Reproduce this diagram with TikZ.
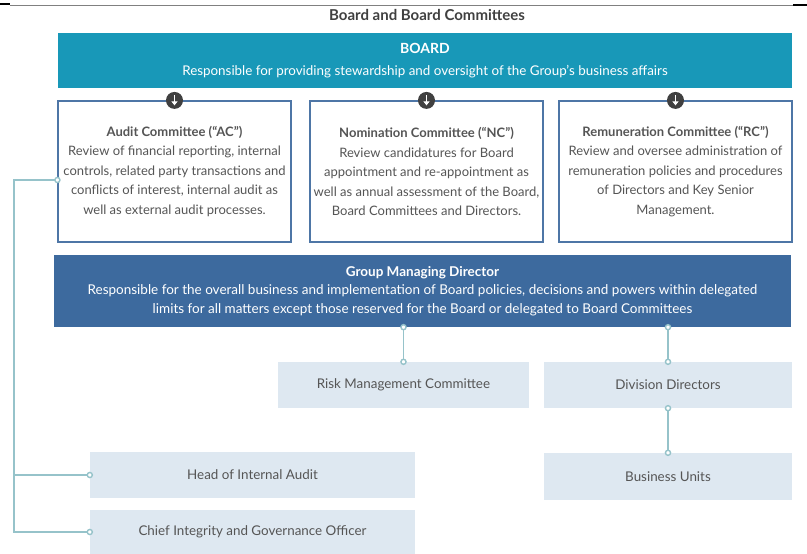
\documentclass[tikz,border=0pt]{standalone}
\usepackage{fontspec}
\setmainfont{Lato}
\usetikzlibrary{arrows.meta}

\definecolor{boardteal}{RGB}{24,152,184}
\definecolor{gmdblue}{RGB}{61,106,158}
\definecolor{frameblue}{RGB}{78,118,166}
\definecolor{unitblue}{RGB}{222,232,241}
\definecolor{badgegray}{RGB}{64,64,64}
\definecolor{linkteal}{RGB}{150,195,202}
\definecolor{textgray}{RGB}{85,85,85}

\begin{document}
\begin{tikzpicture}[x=1pt,y=-1pt]
   \tikzstyle{every node}=[text=textgray, font=\fontsize{13.4}{19.5}\selectfont, align=center, inner sep=0pt]
   \tikzstyle{banner}=[fill=boardteal, text=white, minimum width=734pt, minimum height=55pt]
   \tikzstyle{gmdbox}=[fill=gmdblue, text=white, minimum width=737pt, minimum height=72pt, font=\fontsize{13.5}{18.5}\selectfont]
   \tikzstyle{committee}=[draw=frameblue, line width=1.2pt, fill=white, minimum width=233pt, minimum height=141pt, font=\fontsize{13}{19.5}\selectfont]
   \tikzstyle{unit}=[fill=unitblue, minimum height=46pt]
   \tikzstyle{badge}=[circle, fill=badgegray, minimum size=17pt]
   \tikzstyle{link}=[draw=linkteal, line width=1.4pt, {Circle[fill=white,length=6.5pt,width=6.5pt]}-{Circle[fill=white,length=6.5pt,width=6.5pt]}, shorten <=-3.25pt, shorten >=-3.25pt]
   \tikzstyle{branch}=[draw=linkteal, line width=1.4pt, -{Circle[fill=white,length=6.5pt,width=6.5pt]}, shorten >=-3.25pt]

\useasboundingbox (0,0) rectangle (807,554);

% page edge
\draw[gray, line width=1pt] (10,5) -- (793,5);
\draw[black, line width=2pt] (0,4) -- (10,4);
\draw[black, line width=2pt] (793,5) -- (807,5);

\node[font=\fontsize{15}{17}\selectfont\bfseries, text=black!75] (title) at (427,15) {Board and Board Committees};

\node[banner] (board) at (425,60.5) {{\fontsize{14}{16}\selectfont\bfseries BOARD}\\[3pt]Responsible for providing stewardship and oversight of the Group's business affairs};

\node[committee] (ac) at (174.5,171.5) {\textbf{Audit Committee (``AC'')}\\Review of financial reporting, internal\\controls, related party transactions and\\conflicts of interest, internal audit as\\well as external audit processes.};
\node[committee] (nc) at (426.5,171.5) {\textbf{Nomination Committee (``NC'')}\\Review candidatures for Board\\appointment and re-appointment as\\well as annual assessment of the Board,\\Board Committees and Directors.};
\node[committee] (rc) at (675.5,171.5) {\textbf{Remuneration Committee (``RC'')}\\Review and oversee administration of\\remuneration policies and procedures\\of Directors and Key Senior\\Management.};

% arrows from the board
\foreach \c in {ac,nc,rc} {
    \node[badge] (\c-badge) at (\c.north) {};
    \draw[white, line width=1.8pt, -{Triangle[length=4pt,width=6pt]}] ([yshift=5pt]\c-badge.center) -- ([yshift=-5pt]\c-badge.center);
}

\node[gmdbox] (gmd) at (422.5,291) {\textbf{Group Managing Director}\\Responsible for the overall business and implementation of Board policies, decisions and powers within delegated\\limits for all matters except those reserved for the Board or delegated to Board Committees};

\node[unit, minimum width=251pt] (risk) at (403.5,385) {Risk Management Committee};
\node[unit, minimum width=248pt] (division) at (668,385) {Division Directors};
\node[unit, minimum width=248pt, minimum height=47pt] (business) at (668,476.5) {Business Units};
\node[unit, minimum width=325pt] (head) at (252.5,475) {Head of Internal Audit};
\node[unit, minimum width=325pt, minimum height=44pt] (chief) at (252.5,532) {Chief Integrity and Governance Officer};

\coordinate (spine) at (14,180);

\draw[link] (gmd.south -| risk.north) -- (risk.north);
\draw[link] (gmd.south -| division.north) -- (division.north);
\draw[link] (division.south) -- (business.north);
\draw[link] (ac.west |- spine) -- (spine) |- (chief.west);
\draw[branch] (spine |- head.west) -- (head.west);

\end{tikzpicture}
\end{document}
